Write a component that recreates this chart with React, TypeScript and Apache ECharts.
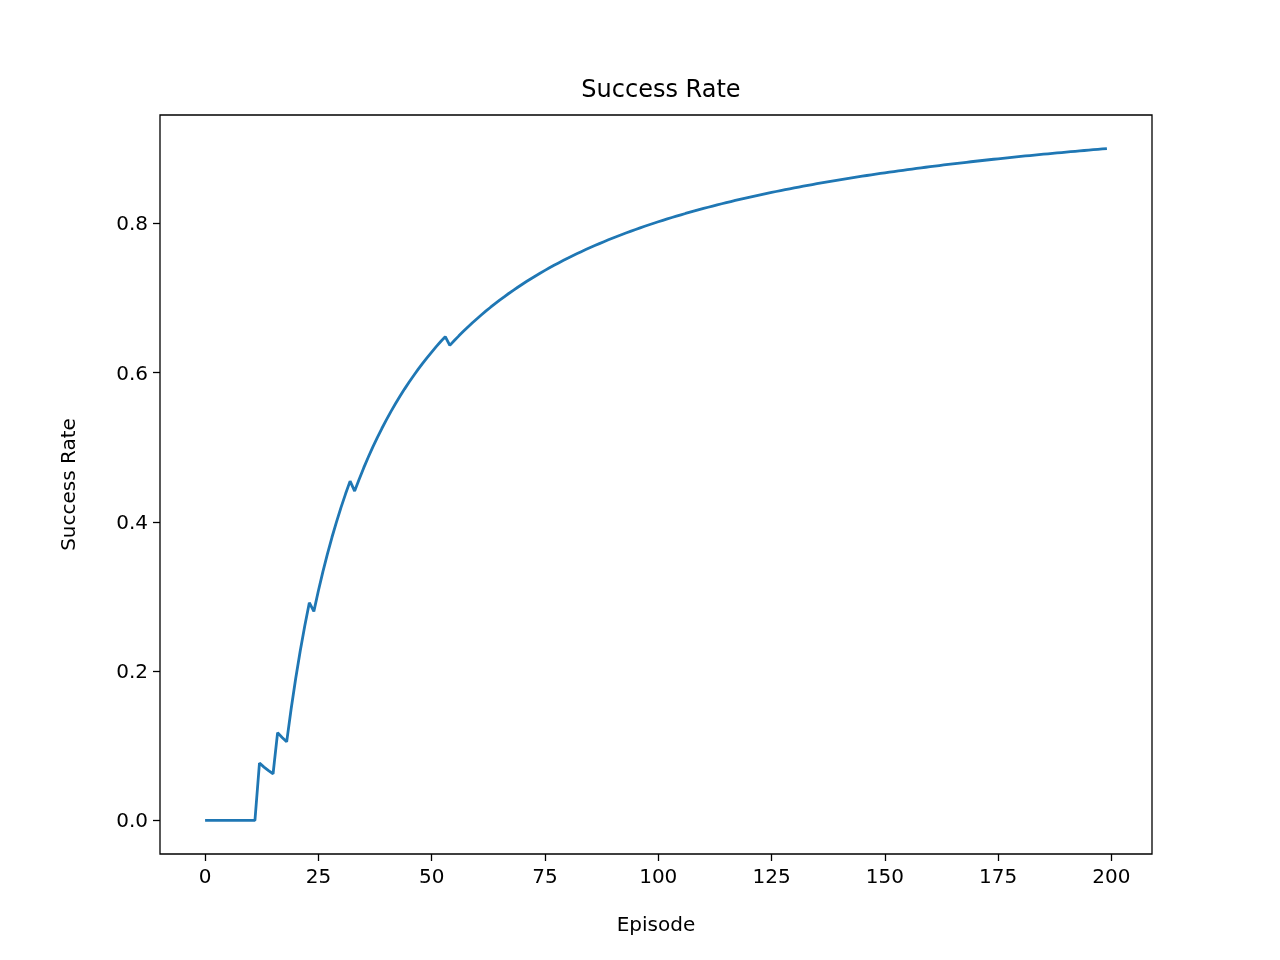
import React, { useEffect, useRef } from "react";
import * as echarts from "echarts";

// Episodes 0..199; episodes with a failure (0) in the reference, all others success (1)
const numEpisodes = 200;
const failureEpisodes = [0,1,2,3,4,5,6,7,8,9,10,11,13,14,15,17,18,24,33,54];
const xTicks = [0, 25, 50, 75, 100, 125, 150, 175, 200];
const yTicks = [0, 0.2, 0.4, 0.6, 0.8];

const outcomes: number[] = [];
for (let i = 0; i < numEpisodes; i++) outcomes.push(failureEpisodes.includes(i) ? 0 : 1);
const rate: [number, number][] = [];
let s = 0;
outcomes.forEach((o, i) => { s += o; rate.push([i, s / (i + 1)]); });

export default function App() {
  const ref = useRef<HTMLDivElement>(null);
  useEffect(() => {
    const chart = echarts.init(ref.current!, null, { renderer: "svg" });
    const font = "DejaVu Sans";
    chart.setOption({
      animation: false,
      title: { text: "Success Rate", left: 656, top: 72, textAlign: "center",
        textStyle: { fontFamily: font, fontSize: 24, fontWeight: "normal", color: "#000" } },
      grid: { left: 160, right: 128, top: 115, bottom: 106, show: true, borderColor: "#000", borderWidth: 1.3, backgroundColor: "transparent" },
      xAxis: { type: "value", min: -9.95, max: 208.95, name: "Episode", nameLocation: "middle", nameGap: 60,
        nameTextStyle: { fontFamily: font, fontSize: 20, color: "#000" },
        splitLine: { show: false }, axisLine: { show: false, onZero: false },
        axisTick: { show: true, customValues: xTicks, length: 7, lineStyle: { color: "#000", width: 1.3 } },
        axisLabel: { customValues: xTicks, fontFamily: font, fontSize: 20, color: "#000", margin: 12 } },
      yAxis: { type: "value", min: -0.045, max: 0.945, name: "Success Rate", nameLocation: "middle", nameGap: 82,
        nameTextStyle: { fontFamily: font, fontSize: 20, color: "#000" },
        splitLine: { show: false }, axisLine: { show: false, onZero: false },
        axisTick: { show: true, customValues: yTicks, length: 7, lineStyle: { color: "#000", width: 1.3 } },
        axisLabel: { customValues: yTicks, formatter: (v: number) => v.toFixed(1), fontFamily: font, fontSize: 20, color: "#000", margin: 12 } },
      series: [{ type: "line", data: rate, showSymbol: false, lineStyle: { color: "#1f77b4", width: 2.8 } }],
    });
    return () => chart.dispose();
  }, []);
  return <div ref={ref} style={{ position: "fixed", left: 0, top: 0, width: 1280, height: 960 }} />;
}
